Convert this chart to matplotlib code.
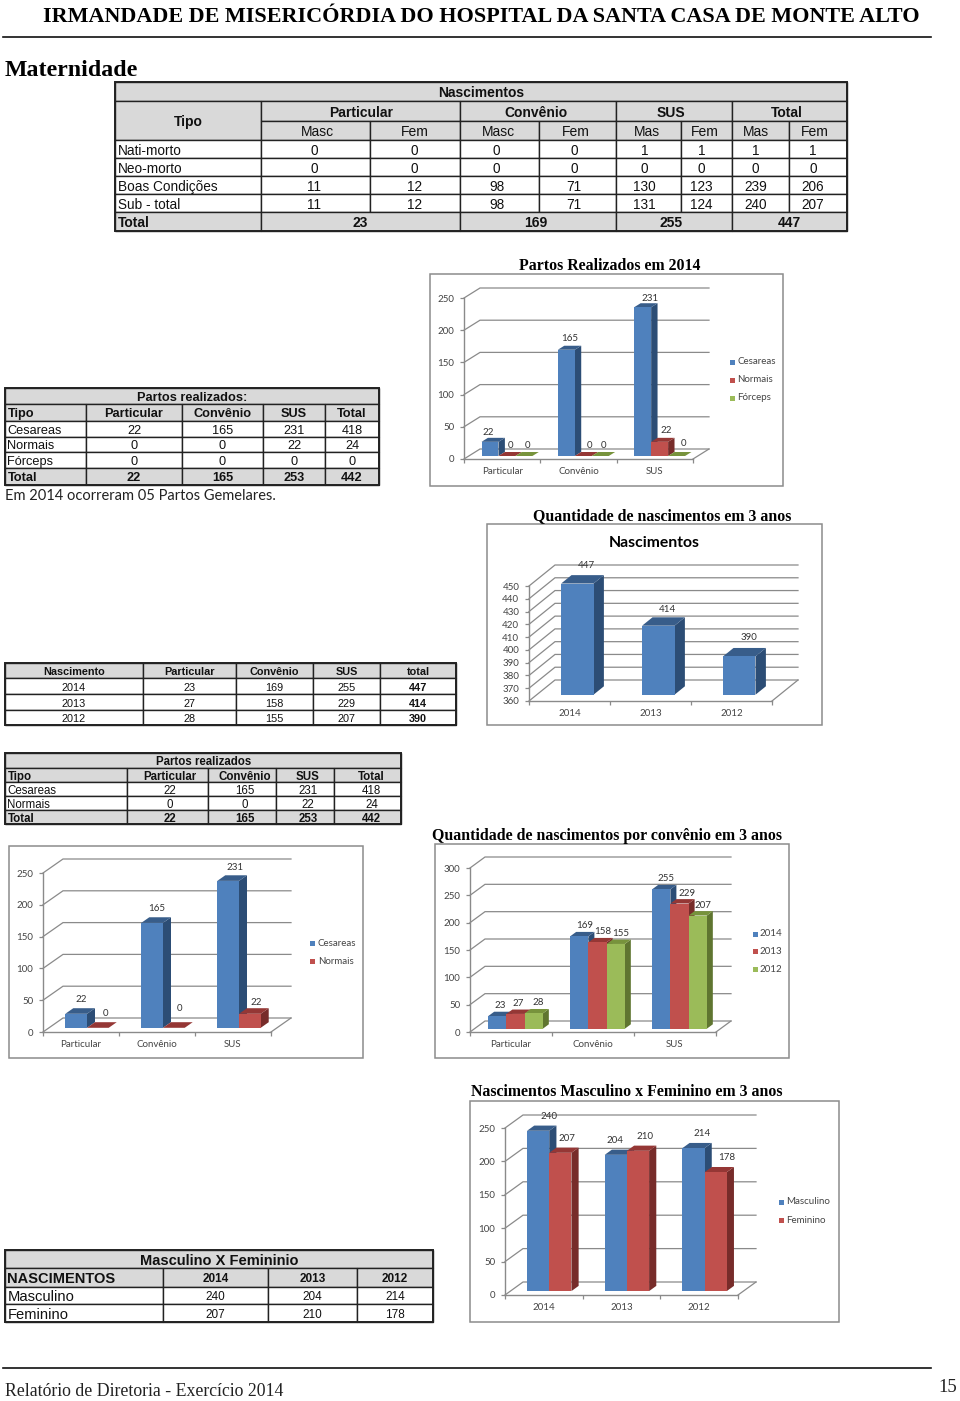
#!/usr/bin/env python3
"""Relatorio de Diretoria 2014, Maternidade page: tables and 3D style bar charts."""

import numpy as np
import matplotlib
matplotlib.use("Agg")
import matplotlib.pyplot as plt
from matplotlib.patches import Polygon, Rectangle

W, H = 960, 1401

HEADER = "IRMANDADE DE MISERICÓRDIA DO HOSPITAL DA SANTA CASA DE MONTE ALTO"
FOOTER = "Relatório de Diretoria - Exercício 2014"
PAGE_NUMBER = "15"

# main births table
BIRTH_GROUPS = ["Particular", "Convênio", "SUS", "Total"]
BIRTH_SUBS = ["Masc", "Fem", "Masc", "Fem", "Mas", "Fem", "Mas", "Fem"]
BIRTH_ROWS = ["Nati-morto", "Neo-morto", "Boas Condições", "Sub - total"]
BIRTH_VALUES = [
    [0, 0, 0, 0, 1, 1, 1, 1],
    [0, 0, 0, 0, 0, 0, 0, 0],
    [11, 12, 98, 71, 130, 123, 239, 206],
    [11, 12, 98, 71, 131, 124, 240, 207],
]
BIRTH_TOTALS = [23, 169, 255, 447]

# deliveries
PAYERS = ["Particular", "Convênio", "SUS"]
CESAREAS = [22, 165, 231]
NORMAIS = [0, 0, 22]
FORCEPS = [0, 0, 0]
CESAREAS_TOTAL = 418
NORMAIS_TOTAL = 24
FORCEPS_TOTAL = 0
DELIVERY_TOTALS = [22, 165, 253, 442]

# births over three years
YEARS = ["2014", "2013", "2012"]
BY_YEAR_PARTICULAR = [23, 27, 28]
BY_YEAR_CONVENIO = [169, 158, 155]
BY_YEAR_SUS = [255, 229, 207]
BY_YEAR_TOTAL = [447, 414, 390]

# male x female
MASCULINO = [240, 204, 214]
FEMININO = [207, 210, 178]

BLUE = ("#4F81BD", "#2C4D75", "#385D8A")
RED = ("#C0504D", "#772C2A", "#953735")
GREEN = ("#9BBB59", "#5F7530", "#77933C")

SANS = "Liberation Sans"
SERIF = "Liberation Serif"
CHART_FONT = "Lato"
LINE = "#222222"
HEAD_FILL = "#D9D9D9"
GRID = "#8A8A8A"


def cell(page, x0, x1, y0, y1, text="", bold=False, fill=None, size=10, left=False, dx=0):
    page.add_patch(Rectangle((x0, y0), x1 - x0, y1 - y0, facecolor=fill or "white",
                             edgecolor=LINE, linewidth=1.0, zorder=2))
    tx = x0 + 2.5 if left else (x0 + x1) / 2 + dx
    page.text(tx, (y0 + y1) / 2 + 1.6, str(text), ha="left" if left else "center", va="center",
              family=SANS, fontweight="bold" if bold else "normal", fontsize=size,
              color="#111111", zorder=3)


def row(page, xs, y0, y1, labels, size=10, bold=False, fill=None, left_first=True, dx=None):
    for i, label in enumerate(labels):
        cell(page, xs[i], xs[i + 1], y0, y1, label, bold=bold, fill=fill, size=size,
             left=left_first and i == 0, dx=dx[i] if dx else 0)


def outline(page, x0, x1, y0, y1):
    page.add_patch(Rectangle((x0, y0), x1 - x0, y1 - y0, fill=False, edgecolor=LINE,
                             linewidth=1.4, zorder=4))


def chart(fig, page, box, x0, x1, y0, ytop, dx, dy, vmin, vmax, step, cats, series, colors,
          label_off, names=None, legend=None, nudges=None):
    """box is the frame on the page, x0..x1 / y0..ytop the front plane of the plot, in pixels."""
    bx0, by0, bx1, by1 = box
    page.add_patch(Rectangle((bx0, by0), bx1 - bx0, by1 - by0, facecolor="white",
                             edgecolor="#8C8C8C", linewidth=1.1, zorder=1))

    ax = fig.add_axes([x0 / W, 1 - y0 / H, (x1 - x0) / W, (y0 - ytop) / H])
    ax.patch.set_alpha(0)
    n_cat = len(cats)
    ax.set_xlim(0, n_cat)
    ax.set_ylim(vmin, vmax)
    px_x = n_cat / (x1 - x0)
    px_y = (vmax - vmin) / (y0 - ytop)
    ddx, ddy = dx * px_x, dy * px_y

    ticks = np.arange(vmin, vmax + step, step)
    for v in ticks:
        ax.plot([0, ddx, n_cat + ddx], [v, v + ddy, v + ddy], color=GRID, lw=0.9,
                clip_on=False, zorder=1, solid_joinstyle="miter")
    ax.plot([n_cat, n_cat + ddx], [vmin, vmin + ddy], color=GRID, lw=0.9, clip_on=False, zorder=1)

    for s in ("top", "right"):
        ax.spines[s].set_visible(False)
    for s in ("left", "bottom"):
        ax.spines[s].set_color(GRID)
        ax.spines[s].set_linewidth(1.0)
    ax.set_yticks(ticks)
    ax.set_yticklabels([str(t) for t in ticks], family=CHART_FONT, fontsize=7, color="#444444")
    ax.set_xticks(np.arange(n_cat + 1))
    ax.set_xticklabels([])
    ax.set_xticks(np.arange(n_cat) + 0.5, minor=True)
    ax.set_xticklabels(cats, minor=True, family=CHART_FONT, fontsize=7, color="#444444")
    ax.tick_params(axis="both", which="major", length=3, color=GRID, width=0.9, pad=4)
    ax.tick_params(axis="x", which="minor", length=0, pad=6)

    # gap width 150%, bar sits in the middle of the depth
    n_ser = len(series)
    w = 1 / (n_ser + 1.5)
    gap = 0.75 * w
    sx, sy = 0.3 * ddx, 0.3 * ddy
    tx, ty = 0.4 * ddx, 0.4 * ddy
    z = 3
    for c in range(n_cat):
        for s, values in enumerate(series):
            v = values[c]
            face, side, top = colors[s]
            left = c + gap + s * w + sx
            right = left + w
            bottom = vmin + sy
            t = bottom + (v - vmin)
            ax.add_patch(Polygon([(right, bottom), (right + tx, bottom + ty), (right + tx, t + ty),
                                  (right, t)], closed=True, facecolor=side, edgecolor="none",
                                 clip_on=False, zorder=z))
            ax.add_patch(Polygon([(left, t), (right, t), (right + tx, t + ty), (left + tx, t + ty)],
                                 closed=True, facecolor=top, edgecolor="none", clip_on=False, zorder=z))
            ax.bar(left, v - vmin, width=w, bottom=bottom, align="edge", color=face,
                   linewidth=0, clip_on=False, zorder=z + 0.5)
            z += 1
            nx, ny = (nudges or {}).get((c, s), (0, 0))
            ax.annotate(str(v), xy=(left + w / 2 + tx / 2, t + ty), xycoords="data",
                        xytext=((label_off[0] + nx) * 0.72, (label_off[1] + ny) * 0.72),
                        textcoords="offset points",
                        ha="center", va="center", family=CHART_FONT, fontsize=7, color="#333333",
                        annotation_clip=False, zorder=200)

    if legend:
        lx, ly, gap_y, text_dx = legend
        for i, name in enumerate(names):
            page.add_patch(Rectangle((lx - 2.5, ly + i * gap_y - 2.5), 5, 5, facecolor=colors[i][0],
                                     edgecolor="none", zorder=2))
            page.text(lx + text_dx, ly + i * gap_y, name, ha="left", va="center",
                      family=CHART_FONT, fontsize=7, color="#444444", zorder=3)
    return ax


def section_title(page, x, y, text, size=11.4):
    page.text(x, y, text, ha="center", va="center", family=SERIF, fontweight="bold",
              fontsize=size, color="black", zorder=3)


def main():
    fig = plt.figure(figsize=(W / 100, H / 100), dpi=100, facecolor="white")
    page = fig.add_axes([0, 0, 1, 1])
    page.set_xlim(0, W)
    page.set_ylim(H, 0)
    page.axis("off")

    # header and footer
    page.text(481, 17, HEADER, ha="center", va="center", family=SERIF, fontweight="bold",
              fontsize=15.95, color="black")
    page.plot([3, 931], [36.5, 36.5], color="#111111", lw=1.2)
    page.plot([3, 931], [1368, 1368], color="#111111", lw=1.2)
    page.text(5, 1392, FOOTER, ha="left", va="center", family=SERIF, fontsize=12.8, color="#222222")
    page.text(957, 1388, PAGE_NUMBER, ha="right", va="center", family=SERIF, fontsize=13.5, color="#222222")
    page.text(5, 71, "Maternidade", ha="left", va="center", family=SERIF, fontweight="bold",
              fontsize=17.2, color="black")

    # births table
    t1_groups = [261, 460, 615.5, 732, 847]
    t1_subs = [261, 370, 460, 539, 615.5, 681, 732, 789, 847]
    t1_rows = [140, 158, 176, 194, 212]
    value_dx = [-1, -1, -3, -3, -4, -5, -5, -5]
    total_dx = [0, -2, -3, 0]
    cell(page, 115, 847, 82, 101, "Nascimentos", bold=True, fill=HEAD_FILL)
    cell(page, 115, 261, 101, 140, "Tipo", bold=True, fill=HEAD_FILL)
    row(page, t1_groups, 101, 121, BIRTH_GROUPS, bold=True, fill=HEAD_FILL, left_first=False,
        dx=[1, -2, -3, -3])
    row(page, t1_subs, 121, 140, BIRTH_SUBS, fill=HEAD_FILL, left_first=False,
        dx=[2, 0, -1, -1, -1, -2, -5, -3])
    for i, name in enumerate(BIRTH_ROWS):
        row(page, [115] + t1_subs, t1_rows[i], t1_rows[i + 1], [name] + BIRTH_VALUES[i],
            size=9.8, dx=[0] + value_dx)
    row(page, [115] + t1_groups, 212, 231, ["Total"] + BIRTH_TOTALS, bold=True, fill=HEAD_FILL,
        dx=[0] + total_dx)
    outline(page, 115, 847, 82, 231)

    # deliveries table
    t2 = [5, 86, 182, 263, 325, 379]
    cell(page, 5, 379, 388, 404, "Partos realizados:", bold=True, fill=HEAD_FILL, size=9.2)
    row(page, t2, 404, 421, ["Tipo"] + PAYERS + ["Total"], size=9.2, bold=True, fill=HEAD_FILL)
    row(page, t2, 421, 437, ["Cesareas"] + CESAREAS + [CESAREAS_TOTAL], size=9.2)
    row(page, t2, 437, 452, ["Normais"] + NORMAIS + [NORMAIS_TOTAL], size=9.2)
    row(page, t2, 452, 468, ["Fórceps"] + FORCEPS + [FORCEPS_TOTAL], size=9.2)
    row(page, t2, 468, 485, ["Total"] + DELIVERY_TOTALS, size=9.2, bold=True, fill=HEAD_FILL)
    outline(page, 5, 379, 388, 485)
    page.text(5, 496, "Em 2014 ocorreram 05 Partos Gemelares.", ha="left", va="center",
              family=CHART_FONT, fontsize=10.5, color="#222222")

    # births by year table
    t3 = [5, 143, 236, 313, 380, 456]
    row(page, t3, 663, 678, ["Nascimento", "Particular", "Convênio", "SUS", "total"], size=7.8, bold=True,
        fill=HEAD_FILL, left_first=False)
    for i, year in enumerate(YEARS):
        labels = [year, BY_YEAR_PARTICULAR[i], BY_YEAR_CONVENIO[i], BY_YEAR_SUS[i]]
        ys = [678, 694, 710, 725]
        row(page, t3[:5], ys[i], ys[i + 1], labels, size=7.8, left_first=False)
        cell(page, t3[4], t3[5], ys[i], ys[i + 1], BY_YEAR_TOTAL[i], bold=True, size=7.8)
    outline(page, 5, 456, 663, 725)

    # deliveries table, second version
    t4 = [5, 127, 208, 276, 334, 401]
    t4_dx = [0, 2, 3, 3, 4]
    cell(page, 5, 401, 753, 768, "Partos realizados", bold=True, fill=HEAD_FILL, size=8.3, dx=1)
    row(page, t4, 768, 782, ["Tipo"] + PAYERS + ["Total"], bold=True, fill=HEAD_FILL, size=8.3, dx=t4_dx)
    row(page, t4, 782, 796, ["Cesareas"] + CESAREAS + [CESAREAS_TOTAL], size=8.3, dx=t4_dx)
    row(page, t4, 796, 810, ["Normais"] + NORMAIS + [NORMAIS_TOTAL], size=8.3, dx=t4_dx)
    row(page, t4, 810, 824, ["Total"] + DELIVERY_TOTALS, bold=True, fill=HEAD_FILL, size=8.3, dx=t4_dx)
    outline(page, 5, 401, 753, 824)

    # male x female table
    t5 = [5, 163, 268, 357, 433]
    cell(page, 5, 433, 1250, 1268, "Masculino X Femininio", bold=True, fill=HEAD_FILL, size=10.5)
    cell(page, 5, 163, 1268, 1287, "NASCIMENTOS", bold=True, fill=HEAD_FILL, size=10.5, left=True)
    row(page, t5[1:], 1268, 1287, YEARS, bold=True, fill=HEAD_FILL, size=8.5, left_first=False)
    cell(page, 5, 163, 1287, 1304, "Masculino", size=10.6, left=True)
    row(page, t5[1:], 1287, 1304, MASCULINO, size=8.5, left_first=False)
    cell(page, 5, 163, 1304, 1322, "Feminino", size=10.6, left=True)
    row(page, t5[1:], 1304, 1322, FEMININO, size=8.5, left_first=False)
    outline(page, 5, 433, 1250, 1322)

    # section titles
    section_title(page, 610, 266, "Partos Realizados em 2014")
    section_title(page, 662.5, 516, "Quantidade de nascimentos em 3 anos")
    section_title(page, 606.5, 836, "Quantidade de nascimentos por convênio em 3 anos")
    section_title(page, 626.5, 1092, "Nascimentos Masculino x Feminino em 3 anos")

    chart(fig, page, (430, 274, 783, 486), 464, 693, 459, 298, 16, 10, 0, 250, 50,
          PAYERS, [CESAREAS, NORMAIS, FORCEPS], [BLUE, RED, GREEN], (0, 7),
          names=["Cesareas", "Normais", "Fórceps"], legend=(732, 362, 18, 5),
          nudges={(0, 0): (-5, -2), (2, 0): (4, -2), (2, 1): (3, 0), (1, 1): (3, 0), (2, 2): (4, 2)})

    chart(fig, page, (487, 524, 822, 725), 529, 772, 701, 586, 26, 21, 360, 450, 10,
          YEARS, [BY_YEAR_TOTAL], [BLUE], (4, 10), nudges={(1, 0): (0, -2)})
    page.text(654, 543, "Nascimentos", ha="center", va="center", family=CHART_FONT,
              fontweight="bold", fontsize=11.3, color="black", zorder=3)

    chart(fig, page, (9, 846, 363, 1058), 43, 271, 1032, 873, 20, 14, 0, 250, 50,
          PAYERS, [CESAREAS, NORMAIS], [BLUE, RED], (1, 9),
          names=["Cesareas", "Normais"], legend=(312, 943, 18, 6),
          nudges={(0, 1): (3, 0), (1, 1): (1, 5), (2, 0): (2, -1), (2, 1): (1, -3)})

    # one series per year, one category per payer
    year_series = [list(v) for v in zip(BY_YEAR_PARTICULAR, BY_YEAR_CONVENIO, BY_YEAR_SUS)]
    chart(fig, page, (435, 844, 789, 1058), 470, 716, 1032, 868, 15, 11, 0, 300, 50,
          PAYERS, year_series, [BLUE, RED, GREEN], (2, 6), names=YEARS, legend=(755, 934, 17.5, 5),
          nudges={(2, 1): (3, 0), (0, 0): (-2, 0), (0, 1): (-2, 0)})

    chart(fig, page, (470, 1101, 839, 1322), 505, 738, 1295, 1128, 18, 13, 0, 250, 50,
          YEARS, [MASCULINO, FEMININO], [BLUE, RED], (3, 9.5),
          names=["Masculino", "Feminino"], legend=(781, 1202, 18.5, 5),
          nudges={(1, 0): (-7, 0), (0, 0): (4, 0), (2, 1): (4, 0), (2, 0): (2, 0)})

    fig.savefig("out.png", dpi=100)
    plt.close(fig)


if __name__ == "__main__":
    main()
